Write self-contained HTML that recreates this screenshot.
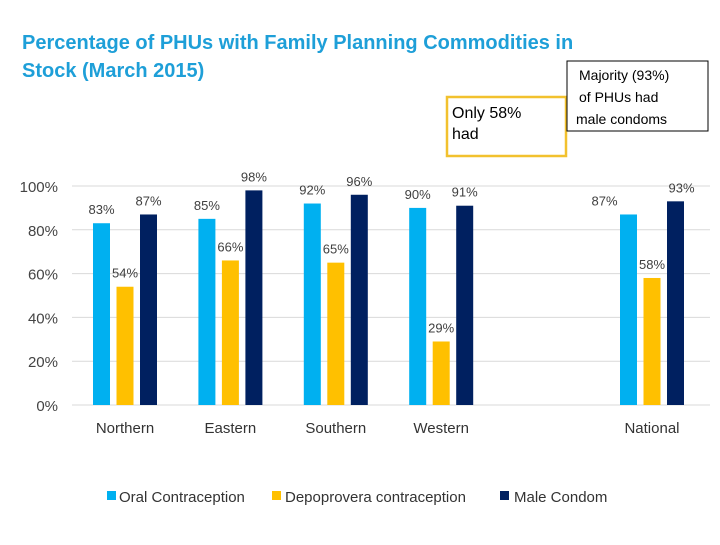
<!DOCTYPE html>
<html><head><meta charset="utf-8"><style>
body{margin:0;background:#fff;width:720px;height:540px;overflow:hidden;font-family:"Liberation Sans",sans-serif}
</style></head><body>
<svg width="720" height="540" xmlns="http://www.w3.org/2000/svg">
<text x="22" y="49" font-size="20" font-weight="bold" fill="#1E9FD8">Percentage of PHUs with Family Planning Commodities in</text>
<text x="22" y="77" font-size="20" font-weight="bold" fill="#1E9FD8">Stock (March 2015)</text>
<rect x="447" y="97" width="119" height="59" fill="none" stroke="#F2C12E" stroke-width="2.5"/>
<text x="452" y="118" font-size="16" fill="#000"><tspan x="452">Only 58%</tspan><tspan x="452" dy="21">had</tspan></text>
<rect x="567" y="61" width="141" height="70" fill="#fff" stroke="#000" stroke-width="1"/>
<text font-size="14" fill="#000"><tspan x="579" y="80">Majority (93%)</tspan><tspan x="579" y="102">of PHUs had</tspan><tspan x="576" y="124">male condoms</tspan></text>
<g id="grid"></g><g id="bars"></g>
<g font-size="15" fill="#333">
<rect x="107" y="491" width="9" height="9" fill="#00B0F0"/>
<text x="119" y="502">Oral Contraception</text>
<rect x="272" y="491" width="9" height="9" fill="#FFC000"/>
<text x="285" y="502">Depoprovera contraception</text>
<rect x="500" y="491" width="9" height="9" fill="#002060"/>
<text x="514" y="502">Male Condom</text>
</g>
</svg>
<script>
const categories=["Northern","Eastern","Southern","Western","","National"];
const oral=[83,85,92,90,null,87];
const depo=[54,66,65,29,null,58];
const male=[87,98,96,91,null,93];
const ticks=[0,20,40,60,80,100];
const ns="http://www.w3.org/2000/svg";
const y0=405,y100=186;
function yS(v){return y0-(y0-y100)*v/100;}
function xS(i){return 125+i*105.4;}
function mk(t,a,p){const e=document.createElementNS(ns,t);for(const k in a)e.setAttribute(k,a[k]);p.appendChild(e);return e;}
const g=document.getElementById('grid'),b=document.getElementById('bars');
ticks.forEach(t=>{
 const l=mk('line',{x1:72,x2:710,y1:yS(t),y2:yS(t),stroke:'#d9d9d9','stroke-width':1},g);
 
 
 const tx=mk('text',{x:58,y:yS(t)+6,'text-anchor':'end','font-size':15,fill:'#444'},g);
 tx.textContent=t+'%';
 
 
});
const series=[[oral,'#00B0F0','oral',-23.5],[depo,'#FFC000','depo',0],[male,'#002060','male',23.5]];
categories.forEach((c,i)=>{
 if(c){const t=mk('text',{x:xS(i),y:433,'text-anchor':'middle','font-size':15,fill:'#333'},g);t.textContent=c;
 
 }
 series.forEach(([arr,col,nm,off])=>{
  const v=arr[i];if(v==null)return;
  const cx=xS(i)+off;
  const r=mk('rect',{x:cx-8.5,y:yS(v),width:17,height:y0-yS(v),fill:col},b);
  
  
  let lx=cx;
  if(c==='National'&&nm==='oral')lx=cx-24;
  if(c==='National'&&nm==='male')lx=cx+6;
  const t=mk('text',{x:lx,y:yS(v)-9,'text-anchor':'middle','font-size':13,fill:'#404040'},b);
  t.textContent=v+'%';
  
  
 });
});
</script>
</body></html>
